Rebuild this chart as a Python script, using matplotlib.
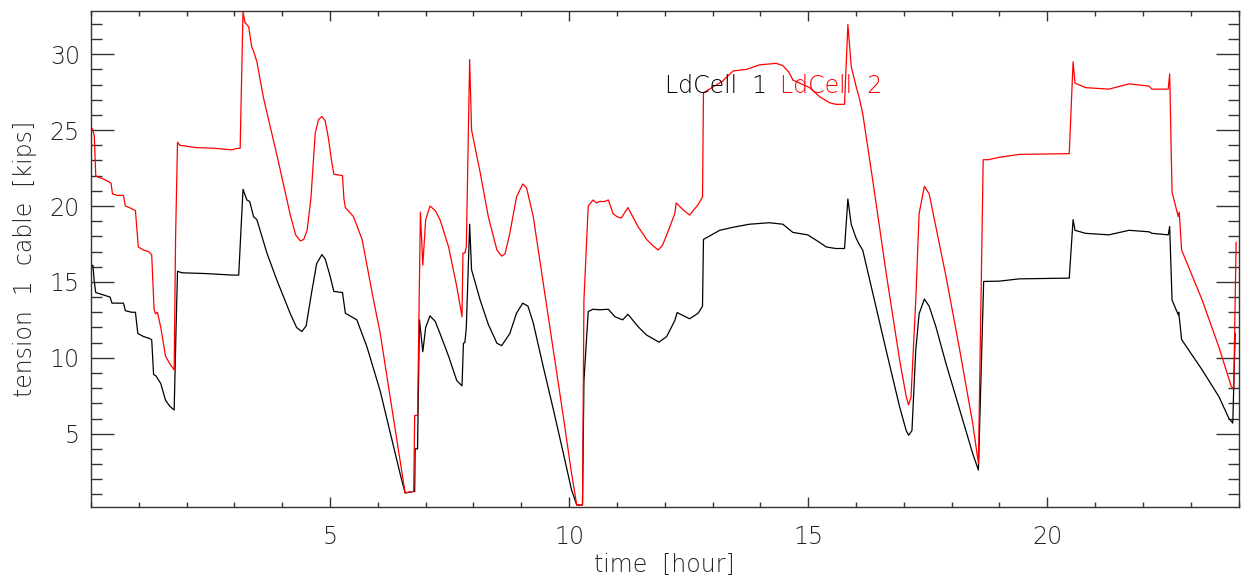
import matplotlib
matplotlib.use("Agg")
import matplotlib.pyplot as plt
from matplotlib.ticker import MultipleLocator

# (hour, kips)
ldcell1 = [
    (0.00, 16.0), (0.04, 16.1), (0.07, 15.0), (0.10, 14.3), (0.20, 14.2), (0.30, 14.1),
    (0.40, 14.0), (0.44, 13.6), (0.55, 13.6), (0.68, 13.6), (0.72, 13.1), (0.85, 13.0),
    (0.93, 13.0), (0.98, 11.6), (1.10, 11.4), (1.20, 11.3), (1.27, 11.2), (1.31, 8.9),
    (1.36, 8.8), (1.46, 8.3), (1.56, 7.2), (1.65, 6.8), (1.74, 6.56), (1.78, 12.0),
    (1.81, 15.7), (1.90, 15.6), (2.40, 15.55), (2.95, 15.45), (3.09, 15.45), (3.18, 21.1),
    (3.26, 20.4), (3.32, 20.3), (3.40, 19.3), (3.47, 19.1), (3.68, 16.9), (3.89, 15.1),
    (4.03, 14.0), (4.17, 12.9), (4.30, 12.0), (4.41, 11.73), (4.50, 12.1), (4.62, 14.4),
    (4.72, 16.2), (4.83, 16.8), (4.90, 16.5), (5.00, 15.4), (5.08, 14.37), (5.26, 14.3),
    (5.32, 12.94), (5.56, 12.5), (5.77, 10.74), (6.05, 7.8), (6.47, 2.3), (6.57, 1.1),
    (6.77, 1.2), (6.78, 4.0), (6.83, 4.0), (6.87, 12.5), (6.94, 10.4), (7.00, 12.0),
    (7.09, 12.76), (7.20, 12.4), (7.30, 11.6), (7.48, 10.1), (7.65, 8.5), (7.76, 8.15),
    (7.79, 10.96), (7.82, 11.0), (7.85, 12.0), (7.92, 18.8), (7.96, 15.8), (8.14, 13.8),
    (8.31, 12.2), (8.49, 10.96), (8.59, 10.8), (8.76, 11.6), (8.90, 12.94), (9.03, 13.6),
    (9.14, 13.4), (9.25, 12.3), (9.46, 9.4), (9.67, 6.6), (9.88, 3.7), (10.05, 1.3),
    (10.16, 0.3), (10.28, 0.3), (10.31, 8.5), (10.40, 13.05), (10.50, 13.2), (10.64, 13.16),
    (10.82, 13.2), (10.96, 12.7), (11.12, 12.5), (11.23, 12.87), (11.44, 12.06), (11.62, 11.5),
    (11.88, 11.03), (12.04, 11.4), (12.21, 12.45), (12.26, 12.98), (12.52, 12.57), (12.70, 12.94),
    (12.79, 13.4), (12.81, 17.8), (13.15, 18.4), (13.43, 18.6), (13.77, 18.8), (14.19, 18.9),
    (14.47, 18.8), (14.68, 18.26), (14.99, 18.1), (15.24, 17.6), (15.38, 17.3), (15.58, 17.2),
    (15.76, 17.2), (15.83, 20.46), (15.90, 18.8), (16.00, 17.9), (16.07, 17.45), (16.14, 17.1),
    (16.35, 14.26), (16.63, 10.5), (16.91, 6.8), (17.05, 5.2), (17.10, 4.9), (17.17, 5.2),
    (17.25, 10.5), (17.32, 12.9), (17.43, 13.87), (17.53, 13.4), (17.67, 12.06), (17.88, 9.64),
    (18.17, 6.56), (18.44, 3.7), (18.56, 2.6), (18.67, 15.03), (19.00, 15.05), (19.41, 15.2),
    (20.46, 15.25), (20.54, 19.1), (20.58, 18.4), (20.80, 18.2), (21.29, 18.1), (21.71, 18.4),
    (22.13, 18.3), (22.19, 18.2), (22.53, 18.1), (22.56, 18.65), (22.61, 13.8), (22.74, 12.83),
    (22.75, 13.0), (22.81, 11.2), (23.24, 9.2), (23.59, 7.44), (23.80, 6.0), (23.88, 5.7),
    (23.93, 11.6),
]

ldcell2 = [
    (0.00, 24.9), (0.03, 25.1), (0.07, 24.6), (0.10, 22.0), (0.15, 21.9), (0.25, 21.8),
    (0.37, 21.6), (0.42, 21.5), (0.45, 20.8), (0.55, 20.7), (0.68, 20.7), (0.72, 20.0),
    (0.80, 19.9), (0.93, 19.7), (0.96, 18.5), (0.99, 17.3), (1.10, 17.1), (1.20, 17.0),
    (1.27, 16.8), (1.32, 13.2), (1.35, 12.9), (1.39, 13.0), (1.46, 12.0), (1.56, 10.1),
    (1.65, 9.6), (1.74, 9.2), (1.77, 18.0), (1.81, 24.2), (1.86, 24.0), (2.20, 23.85),
    (2.60, 23.8), (2.95, 23.7), (3.05, 23.8), (3.12, 23.8), (3.18, 32.8), (3.22, 32.1),
    (3.30, 31.8), (3.36, 30.5), (3.40, 30.2), (3.47, 29.5), (3.61, 27.1), (3.90, 23.2),
    (4.17, 19.4), (4.28, 18.1), (4.38, 17.7), (4.45, 17.8), (4.52, 18.4), (4.60, 20.5),
    (4.69, 24.8), (4.76, 25.7), (4.83, 25.9), (4.90, 25.6), (4.97, 24.4), (5.03, 23.0),
    (5.08, 22.1), (5.26, 22.0), (5.29, 20.5), (5.32, 19.9), (5.49, 19.3), (5.67, 17.8),
    (5.91, 13.8), (6.05, 11.6), (6.57, 1.1), (6.75, 1.2), (6.77, 6.2), (6.83, 6.2),
    (6.89, 19.6), (6.94, 16.1), (7.00, 19.1), (7.09, 20.0), (7.20, 19.7), (7.30, 19.1),
    (7.48, 17.3), (7.65, 14.7), (7.76, 12.7), (7.78, 16.9), (7.82, 16.9), (7.85, 17.3),
    (7.92, 29.65), (7.96, 25.0), (8.14, 22.2), (8.31, 19.3), (8.49, 17.1), (8.59, 16.7),
    (8.66, 16.85), (8.76, 18.2), (8.90, 20.6), (9.03, 21.45), (9.11, 21.2), (9.25, 19.3),
    (9.46, 14.9), (9.67, 10.5), (9.88, 6.1), (10.05, 2.4), (10.16, 0.3), (10.28, 0.3),
    (10.31, 13.8), (10.40, 20.0), (10.50, 20.4), (10.57, 20.2), (10.64, 20.3), (10.75, 20.3),
    (10.82, 20.4), (10.92, 19.5), (11.00, 19.3), (11.09, 19.2), (11.23, 19.9), (11.44, 18.65),
    (11.62, 17.8), (11.75, 17.4), (11.86, 17.1), (11.95, 17.4), (12.03, 18.0), (12.21, 19.5),
    (12.24, 20.2), (12.40, 19.7), (12.52, 19.4), (12.70, 20.1), (12.79, 20.6), (12.81, 27.45),
    (13.01, 27.85), (13.20, 28.2), (13.43, 28.9), (13.71, 29.0), (13.98, 29.3), (14.33, 29.4),
    (14.47, 29.25), (14.60, 28.8), (14.68, 28.3), (15.03, 27.8), (15.24, 27.2), (15.45, 26.8),
    (15.58, 26.7), (15.76, 26.7), (15.83, 31.96), (15.90, 29.2), (16.00, 27.9), (16.07, 27.1),
    (16.14, 26.1), (16.35, 21.7), (16.63, 15.6), (16.91, 9.9), (17.05, 7.44), (17.10, 6.9),
    (17.15, 7.4), (17.25, 13.8), (17.32, 19.5), (17.43, 21.3), (17.53, 20.8), (17.67, 18.65),
    (17.88, 15.4), (18.17, 10.5), (18.44, 5.7), (18.56, 3.05), (18.66, 23.05), (18.77, 23.05),
    (18.98, 23.2), (19.41, 23.4), (20.46, 23.45), (20.54, 29.5), (20.58, 28.1), (20.80, 27.8),
    (21.29, 27.7), (21.71, 28.05), (22.13, 27.9), (22.19, 27.7), (22.53, 27.7), (22.56, 28.7),
    (22.61, 20.9), (22.74, 19.3), (22.76, 19.6), (22.81, 17.1), (23.24, 13.8), (23.59, 10.7),
    (23.85, 8.1), (23.90, 8.0), (23.95, 17.6),
]

xticks = [5, 10, 15, 20]
yticks = [5, 10, 15, 20, 25, 30]

plt.rcParams['font.family'] = ['DejaVu Sans']

fig = plt.figure(figsize=(12.41, 5.87), dpi=100)
ax = fig.add_axes([0.0733, 0.1363, 0.9247, 0.845])

t1, v1 = zip(*ldcell1)
t2, v2 = zip(*ldcell2)
ax.plot(t1, v1, color='black', lw=0.9)
ax.plot(t2, v2, color='red', lw=0.9)

ax.set_xlim(0, 24)
ax.set_ylim(0.17, 32.85)
ax.xaxis.set_minor_locator(MultipleLocator(1))
ax.yaxis.set_minor_locator(MultipleLocator(1))
ax.set_xticks(xticks)
ax.set_yticks(yticks)

axcol = '#333333'
txtcol = '#222222'
for s in ax.spines.values():
    s.set_color(axcol)
    s.set_linewidth(1.0)
ax.tick_params(axis='x', which='major', direction='in', length=7.5, width=1, top=True,
               color=axcol, labelsize=17, pad=13, labelcolor=txtcol)
ax.tick_params(axis='x', which='minor', direction='in', length=3.8, width=1, top=True, color=axcol)
ax.tick_params(axis='y', which='major', direction='in', length=16.5, width=1, right=True,
               color=axcol, labelsize=17, pad=8, labelcolor=txtcol)
ax.tick_params(axis='y', which='minor', direction='in', length=8, width=1, right=True, color=axcol)
for lab in ax.get_xticklabels() + ax.get_yticklabels():
    lab.set_fontweight(200)

ax.set_xlabel('time  [hour]', fontsize=17, color=txtcol, labelpad=3, fontweight=200)
ax.set_ylabel('tension  1  cable  [kips]', fontsize=17, color=txtcol, labelpad=9, fontweight=200)

ax.text(0.5003, 0.835, 'LdCell  1', transform=ax.transAxes, fontsize=17, color='black',
        va='baseline', fontweight=200)
ax.text(0.6005, 0.835, 'LdCell  2', transform=ax.transAxes, fontsize=17, color='red',
        va='baseline', fontweight=200)

fig.savefig('out.png', dpi=100)
